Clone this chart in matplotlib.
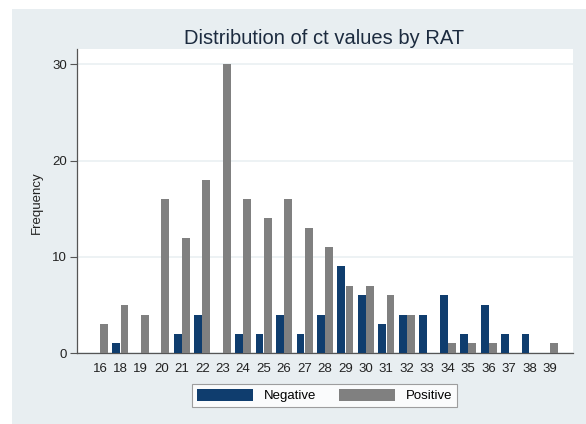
import numpy as np
import matplotlib
matplotlib.use("Agg")
import matplotlib.pyplot as plt
from matplotlib.patches import Rectangle

plt.rcParams['font.family'] = ['Liberation Sans', 'DejaVu Sans']

categories = ['16', '18', '19', '20', '21', '22', '23', '24', '25', '26', '27', '28',
              '29', '30', '31', '32', '33', '34', '35', '36', '37', '38', '39']
negative = [0, 1, 0, 0, 2, 4, 0, 2, 2, 4, 2, 4, 9, 6, 3, 4, 4, 6, 2, 5, 2, 2, 0]
positive = [3, 5, 4, 16, 12, 18, 30, 16, 14, 16, 13, 11, 7, 7, 6, 4, 0, 1, 1, 1, 0, 0, 1]
yticks = [0, 10, 20, 30]

W, H = 586, 424
fig = plt.figure(figsize=(W / 100, H / 100), dpi=100, facecolor='white')
bg = '#e8eef1'
fig.add_artist(Rectangle((12 / W, 0), 1 - 12 / W, 1 - 9 / H, transform=fig.transFigure,
                         facecolor=bg, edgecolor='none', zorder=-10))

ax = fig.add_axes([77 / W, (H - 353) / H, (573 - 77) / W, (353 - 49) / H])
ax.set_zorder(1)
ax.set_facecolor('white')

x = np.arange(len(categories))
w = 0.385
ax.bar(x - 0.2, negative, width=w, color='#0f3d6e', label='Negative', zorder=3)
ax.bar(x + 0.2, positive, width=w, color='#808080', label='Positive', zorder=3)

ax.set_xlim(-1.12, len(categories) - 1 + 1.12)
ax.set_ylim(0, 31.6)
ax.set_xticks(x)
ax.set_xticklabels(categories, fontsize=9.5, color='#222222')
ax.tick_params(axis='x', length=0, pad=7)
ax.set_yticks(yticks)
ax.set_yticklabels([str(v) for v in yticks], fontsize=9.5, color='#222222')
ax.tick_params(axis='y', length=5, width=0.8, color='#555555', pad=2)
ax.yaxis.grid(True, color='#eaf0f2', linewidth=1.2, zorder=0)

for s in ['top', 'right']:
    ax.spines[s].set_visible(False)
for s in ['left', 'bottom']:
    ax.spines[s].set_color('#555555')
    ax.spines[s].set_linewidth(0.9)

fig.text(37 / W, 1 - 203 / H, 'Frequency', rotation=90, fontsize=9.5,
         ha='center', va='center', color='#222222')
fig.text(324 / W, 1 - 43.5 / H, 'Distribution of ct values by RAT', fontsize=14.5,
         ha='center', va='baseline', color='#1c2b3f')

leg = ax.legend(loc='center', bbox_to_anchor=(324.5 / W, 1 - 395.5 / H),
                bbox_transform=fig.transFigure, ncol=2, fontsize=9.5,
                handlelength=4.3, handleheight=1.1, handletextpad=0.8,
                columnspacing=1.7, fancybox=False, frameon=True,
                borderpad=0.35, borderaxespad=0)
leg.get_frame().set_edgecolor('#888888')
leg.get_frame().set_linewidth(0.8)

fig.savefig('out.png', dpi=100, facecolor='white')
